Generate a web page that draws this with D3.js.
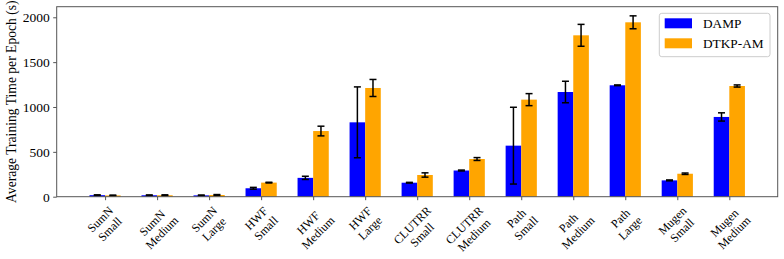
<!DOCTYPE html>
<html><head><meta charset="utf-8">
<script src="https://cdn.jsdelivr.net/npm/d3@7"></script>
<style>body{margin:0;background:#fff}text{font-family:"Liberation Serif","Times New Roman",serif}</style>
</head><body><svg id="c" width="784" height="259"></svg>
<script>
const categories = ["SumN\nSmall","SumN\nMedium","SumN\nLarge","HWF\nSmall","HWF\nMedium","HWF\nLarge","CLUTRR\nSmall","CLUTRR\nMedium","Path\nSmall","Path\nMedium","Path\nLarge","Mugen\nSmall","Mugen\nMedium"];
const seriesNames = ["DAMP","DTKP-AM"];
const dampMean = [17, 16, 15, 94, 210, 829, 156, 292, 569, 1167, 1242, 182, 889];
const dampErr  = [4, 4, 4, 10, 18, 395, 4, 5, 428, 120, 4, 5, 46];
const dtkpMean = [14, 16, 19, 157, 732, 1212, 242, 420, 1082, 1799, 1944, 256, 1234];
const dtkpErr  = [4, 5, 5, 4, 54, 95, 24, 16, 67, 122, 72, 8, 12];
const yTicks = [0, 500, 1000, 1500, 2000];
const colors = ["#0000ff", "#ffa500"];

const svg = d3.select("#c");
const L = 56.7, R = 777.7, T = 6.7, B = 196.7;
const bw = 0.3;
const x = d3.scaleLinear().domain([-0.3 - 0.63, categories.length - 1 + 0.3 + 0.63]).range([L, R]);
const y = d3.scaleLinear().domain([0, 2118]).range([B, T]);

const groups = [
  {name: seriesNames[0], mean: dampMean, err: dampErr, off: -bw/2, color: colors[0]},
  {name: seriesNames[1], mean: dtkpMean, err: dtkpErr, off: bw/2, color: colors[1]}
];

groups.forEach(g => {
  const gg = svg.append("g");
  gg.selectAll("rect").data(g.mean).join("rect")
    .attr("x", (d,i) => x(i + g.off - bw/2))
    .attr("width", x(bw) - x(0))
    .attr("y", d => y(d))
    .attr("height", d => B - y(d))
    .attr("fill", g.color);
});
groups.forEach(g => {
  const eg = svg.append("g").attr("stroke", "#000").attr("stroke-width", 1.5);
  g.mean.forEach((m, i) => {
    const cx = x(i + g.off), e = g.err[i];
    eg.append("line").attr("x1", cx).attr("x2", cx).attr("y1", y(m - e)).attr("y2", y(m + e));
    [m - e, m + e].forEach(v => eg.append("line").attr("x1", cx - 3.5).attr("x2", cx + 3.5).attr("y1", y(v)).attr("y2", y(v)));
  });
});

// frame
svg.append("rect").attr("x", L).attr("y", T).attr("width", R - L).attr("height", B - T)
  .attr("fill", "none").attr("stroke", "#555").attr("stroke-width", 1);

// y axis
const ya = svg.append("g").attr("transform", `translate(${L},0)`)
  .call(d3.axisLeft(y).tickValues(yTicks).tickSize(3.5).tickPadding(3.5).tickFormat(d3.format("d")));
ya.select(".domain").remove();
ya.selectAll("line").attr("stroke", "#555");
ya.selectAll("text").attr("font-size", 13.5).attr("font-family", "Liberation Serif").attr("fill", "#000");

// x axis ticks
const xa = svg.append("g").attr("transform", `translate(0,${B})`)
  .call(d3.axisBottom(x).tickValues(d3.range(categories.length)).tickSize(3.5).tickFormat(""));
xa.select(".domain").remove();
xa.selectAll("line").attr("stroke", "#555");

// x tick labels rotated 45
const fs = 12, lh = fs * 1.15;
categories.forEach((c, i) => {
  const lines = c.split("\n");
  const g = svg.append("g");
  const t = g.append("text").attr("font-size", fs).attr("text-anchor", "middle").attr("fill", "#000");
  lines.forEach((ln, k) => t.append("tspan").attr("x", 0).attr("y", (k - (lines.length - 1) / 2) * lh).attr("dominant-baseline", "central").text(ln));
  let W = 0;
  t.selectAll("tspan").each(function(){ W = Math.max(W, this.getComputedTextLength()); });
  const H = lines.length * lh;
  const top = B + 3.5 + 3.5;
  g.attr("transform", `translate(${x(i)},${top + (W + H) * Math.SQRT1_2 / 2}) rotate(-45)`);
});

// y label
svg.append("text").attr("transform", `translate(16,${(T + B) / 2}) rotate(-90)`)
  .attr("text-anchor", "middle").attr("font-size", 13.6).attr("fill", "#000")
  .text("Average Training Time per Epoch (s)");

// legend
const lg = svg.append("g");
lg.append("rect").attr("x", 659.3).attr("y", 13.3).attr("width", 110.7).attr("height", 43.4)
  .attr("rx", 2.5).attr("fill", "#fff").attr("fill-opacity", 0.8).attr("stroke", "#ccc").attr("stroke-width", 1);
groups.forEach((g, k) => {
  const yy = 18.3 + k * 20;
  lg.append("rect").attr("x", 664.7).attr("y", yy).attr("width", 27.3).attr("height", 10).attr("fill", g.color);
  lg.append("text").attr("x", 703).attr("y", yy + 5).attr("dominant-baseline", "central")
    .attr("font-size", 13.3).attr("fill", "#000").text(g.name);
});
</script></body></html>
